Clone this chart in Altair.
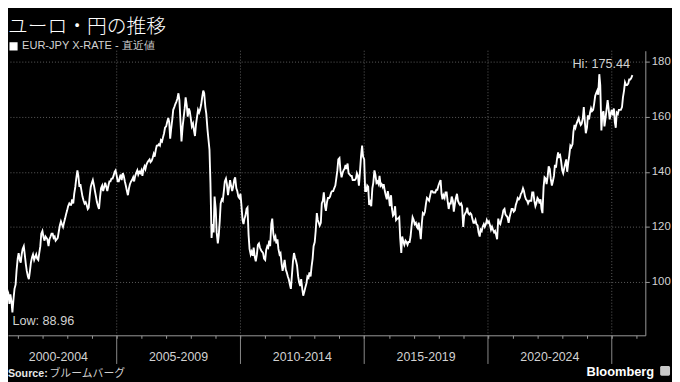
import altair as alt
import pandas as pd

# ---------------- text ----------------
title_text = "ユーロ・円の推移"
series_name = "EUR-JPY X-RATE - 直近値"
source_head = "Source:"
source_body = "ブルームバーグ"
brand_text = "Bloomberg"

# ---------------- data ----------------
# EUR/JPY, semi-monthly readings (1st and 15th of each month)
first_obs = "2000-04-01"
rate = [
    # 2000 (Apr-Dec)
    100.5, 98.0, 97.5, 99.5, 103.0, 100.5, 101.0, 99.0, 97.0, 96.0, 92.0, 95.5,
    93.0, 88.96, 94.0, 97.5, 99.0, 104.0,
    # 2001
    108.5, 110.5, 108.0, 107.0, 110.0, 112.0, 113.0, 110.0, 106.5, 104.0, 102.0, 101.0,
    104.0, 107.0, 109.0, 110.0, 108.0, 109.0, 110.0, 108.5, 108.0, 110.5, 113.0, 117.5,
    # 2002
    118.5, 116.5, 115.0, 116.5, 116.0, 115.5, 113.0, 115.5, 116.5, 117.5, 117.5, 116.0,
    116.5, 115.0, 115.5, 116.0, 118.5, 120.5, 122.0, 121.0, 120.0, 121.5, 123.0, 124.5,
    # 2003
    126.0, 127.5, 128.5, 128.0, 128.0, 130.0, 128.5, 132.0, 134.5, 137.5, 140.5, 138.5,
    134.5, 135.5, 133.0, 131.0, 129.5, 128.5, 129.0, 128.0, 126.5, 127.0, 131.5, 134.5,
    # 2004
    136.0, 137.0, 135.0, 133.0, 131.0, 129.0, 127.5, 126.5, 131.0, 134.0, 135.0, 133.0,
    134.5, 136.0, 134.5, 133.0, 135.0, 136.5, 136.5, 137.5, 137.5, 138.5, 140.0, 140.5,
    # 2005
    138.5, 136.5, 136.5, 138.0, 139.0, 137.0, 139.5, 138.5, 136.5, 135.0, 133.0, 131.5,
    134.0, 135.5, 136.5, 137.0, 138.0, 136.5, 138.5, 139.5, 140.5, 139.0, 140.0, 139.5,
    # 2006
    140.5, 138.5, 141.0, 142.0, 141.0, 142.5, 143.5, 144.0, 144.5, 143.5, 144.0, 145.0,
    146.5, 145.5, 148.0, 149.5, 149.5, 150.0, 149.5, 151.5, 151.0, 152.5, 154.0, 156.0,
    # 2007
    156.5, 158.0, 159.5, 158.0, 152.0, 155.5, 159.0, 162.5, 163.5, 164.5, 165.5, 166.5,
    168.5, 166.0, 158.0, 151.0, 156.5, 159.5, 163.0, 167.0, 164.0, 160.0, 163.0, 162.0,
    # 2008
    159.0, 156.5, 157.5, 155.0, 153.0, 157.0, 160.0, 162.5, 161.5, 162.5, 164.5, 167.0,
    169.5, 168.5, 163.5, 161.0, 155.5, 152.0, 148.0, 136.0, 116.0, 121.0, 118.0, 131.0,
    # 2009
    126.5, 118.0, 114.0, 117.0, 122.0, 128.5, 130.0, 129.5, 133.0, 136.5, 137.5, 135.5,
    131.5, 134.0, 137.0, 135.0, 133.0, 134.5, 137.0, 138.0, 134.0, 133.0, 131.0, 130.5,
    # 2010
    132.0, 128.0, 122.5, 121.0, 123.0, 124.0, 126.5, 127.0, 117.0, 112.0, 110.0, 111.0,
    109.5, 112.5, 109.0, 107.5, 110.0, 113.5, 114.0, 112.5, 111.5, 111.0, 110.5, 108.5,
    # 2011
    108.0, 111.5, 113.0, 112.5, 115.0, 113.0, 121.0, 123.0, 117.5, 115.5, 116.5, 114.0,
    115.5, 112.0, 110.0, 110.5, 106.5, 104.0, 106.0, 108.0, 104.5, 103.5, 102.0, 101.0,
    # 2012
    99.0, 97.5, 103.0, 107.5, 110.5, 109.0, 107.5, 106.0, 102.0, 100.0, 98.5, 101.0,
    97.5, 95.0, 96.5, 98.0, 99.5, 102.0, 101.5, 103.5, 102.0, 105.5, 108.5, 113.0,
    # 2013
    114.5, 118.5, 125.0, 122.5, 121.5, 120.5, 121.5, 128.5, 129.5, 132.5, 127.5, 125.8,
    129.0, 130.5, 130.5, 131.0, 132.5, 133.0, 133.0, 134.0, 135.0, 137.5, 140.5, 144.5,
    # 2014
    145.0, 140.5, 138.0, 139.5, 140.5, 141.0, 142.5, 141.0, 143.0, 139.5, 139.0, 138.5,
    138.5, 137.0, 137.0, 137.0, 137.5, 139.5, 138.5, 135.0, 140.5, 145.5, 149.5, 145.5,
    # 2015
    144.5, 133.0, 133.0, 135.0, 134.5, 128.0, 129.0, 127.5, 134.0, 136.0, 140.5, 139.0,
    136.0, 136.5, 135.5, 138.5, 135.0, 135.5, 134.5, 135.5, 133.0, 131.5, 130.0, 133.0,
    # 2016
    130.5, 127.5, 131.5, 126.5, 124.0, 124.5, 127.5, 122.5, 123.0, 123.0, 123.5, 116.0,
    110.5, 116.5, 114.5, 113.5, 115.0, 114.5, 113.5, 114.5, 114.5, 116.5, 120.5, 123.5,
    # 2017
    122.5, 121.0, 121.5, 120.0, 119.5, 121.5, 118.5, 115.5, 121.5, 125.0, 124.5, 125.5,
    128.5, 130.5, 130.0, 129.5, 131.5, 133.0, 133.0, 132.5, 132.5, 132.5, 133.5, 133.5,
    # 2018
    135.0, 136.0, 137.0, 132.0, 130.0, 131.5, 130.5, 132.5, 132.5, 129.5, 126.5, 128.5,
    128.5, 131.0, 129.5, 125.5, 128.5, 130.5, 132.0, 129.5, 128.5, 128.0, 128.5, 127.5,
    # 2019
    120.0, 124.0, 125.0, 125.5, 127.0, 125.0, 124.5, 125.0, 124.5, 123.0, 121.5, 121.5,
    122.5, 121.0, 120.5, 118.0, 116.5, 119.0, 118.5, 120.0, 121.0, 120.0, 121.0, 122.5,
    # 2020
    121.5, 122.0, 120.5, 119.0, 120.0, 119.0, 118.0, 118.5, 117.0, 115.5, 123.0, 121.5,
    121.0, 122.5, 124.0, 126.0, 126.5, 124.5, 124.0, 123.5, 121.5, 123.5, 125.0, 126.5,
    # 2021
    126.5, 125.5, 126.0, 128.0, 129.0, 130.5, 130.0, 130.5, 132.0, 132.5, 134.0, 133.0,
    131.0, 130.0, 129.5, 128.5, 129.5, 129.5, 129.5, 132.5, 132.5, 129.5, 127.5, 128.5,
    # 2022
    130.5, 130.0, 128.5, 130.0, 126.5, 125.0, 134.5, 138.0, 137.5, 135.5, 138.5, 142.0,
    141.0, 137.5, 135.0, 136.5, 138.5, 142.5, 141.5, 144.5, 147.0, 145.5, 146.0, 144.0,
    # 2023
    140.5, 139.5, 141.5, 143.0, 144.5, 140.0, 143.5, 146.0, 149.5, 149.0, 150.0, 154.5,
    157.0, 156.0, 157.5, 158.5, 159.5, 158.0, 157.0, 157.5, 159.5, 163.5, 158.0, 154.0,
    # 2024
    156.0, 160.5, 159.0, 161.5, 163.0, 162.0, 162.5, 164.5, 167.5, 168.5, 169.5, 168.0,
    175.44, 171.5, 155.0, 161.0, 162.0, 156.5, 159.5, 162.5, 166.0, 163.0, 159.0, 161.0,
    # 2025 (Jan-Oct, then Nov 1)
    162.5, 160.5, 163.0, 158.0, 156.0, 161.5, 161.0, 162.5, 162.5, 162.5, 163.5, 167.0,
    169.5, 172.5, 171.5, 171.5, 172.0, 173.5, 173.5, 174.0, 175.1,
]

period_labels = ["2000-2004", "2005-2009", "2010-2014", "2015-2019", "2020-2024"]
period_centers = ["2002-08-24", "2007-07-02", "2012-07-02", "2017-07-02", "2022-07-02"]
period_bounds = ["2005-01-01", "2010-01-01", "2015-01-01", "2020-01-01", "2025-01-01"]
year_ticks = list(range(2001, 2027))
y_ticks = [100, 120, 140, 160, 180]
x_start = (2000, 8, 11)
x_end = (2026, 5, 11)
y_domain = [80.63, 183.95]

# ---------------- frames ----------------
df = pd.DataFrame({
    "date": pd.date_range(first_obs, periods=len(rate), freq="SMS"),
    "rate": rate,
    "series": series_name,
})
lo = df.loc[df["rate"].idxmin()]
hi = df.loc[df["rate"].idxmax()]
low_df = pd.DataFrame({"date": [lo["date"]], "rate": [lo["rate"]], "label": [f"Low: {lo['rate']:.2f}"]})
hi_df = pd.DataFrame({"date": [hi["date"]], "rate": [hi["rate"]], "label": [f"Hi: {hi['rate']:.2f}"]})
bounds_df = pd.DataFrame({"date": pd.to_datetime(period_bounds)})
labels_df = pd.DataFrame({"date": pd.to_datetime(period_centers), "label": period_labels})

W, H = 645, 288
AXIS_GREY = "#9a9a9a"
GRID_GREY = "#5e5e5e"
TXT = "#d2d2d2"
FONT = "Liberation Sans"
CJK = "Noto Sans CJK JP"

x_enc = alt.X(
    "date:T",
    scale=alt.Scale(domain=[alt.DateTime(year=x_start[0], month=x_start[1], date=x_start[2]),
                            alt.DateTime(year=x_end[0], month=x_end[1], date=x_end[2])]),
    axis=alt.Axis(values=[alt.DateTime(year=y, month=1, date=1) for y in year_ticks],
                  labels=False, title=None, grid=False, tickSize=3, tickColor=AXIS_GREY,
                  domainColor=AXIS_GREY, domainWidth=1),
)
y_enc = alt.Y(
    "rate:Q",
    scale=alt.Scale(domain=y_domain, nice=False, zero=False),
    axis=alt.Axis(orient="right", values=y_ticks, title=None, grid=True, gridDash=[1, 2],
                  gridColor=GRID_GREY, tickSize=4, tickColor=AXIS_GREY, domainColor=AXIS_GREY,
                  labelPadding=2, labelFont=FONT, labelFontSize=11.5, labelColor=TXT),
)

grid_v = alt.Chart(bounds_df).mark_rule(color=GRID_GREY, strokeDash=[1, 2], strokeWidth=1).encode(
    x=x_enc, y=alt.value(0), y2=alt.value(H))
sep = alt.Chart(bounds_df).mark_rule(color="#8a8a8a", strokeWidth=1).encode(
    x=x_enc, y=alt.value(H), y2=alt.value(H + 29))

line = alt.Chart(df).mark_line(clip=True, strokeWidth=1.9, strokeJoin="miter").encode(
    x=x_enc, y=y_enc,
    color=alt.Color("series:N", scale=alt.Scale(domain=[series_name], range=["#ffffff"]),
                    legend=alt.Legend(orient="none", legendX=0, legendY=-10, title=None,
                                      symbolType="square", symbolSize=45,
                                      symbolFillColor="#ffffff", symbolStrokeColor="#ffffff",
                                      labelFont=FONT, labelFontSize=11.2, labelColor=TXT,
                                      labelOffset=3, padding=0)),
)

low_txt = alt.Chart(low_df).mark_text(align="left", baseline="top", dx=0, dy=3, font=FONT,
                                      fontSize=12.8, color=TXT).encode(x=x_enc, y=y_enc, text="label:N")
hi_txt = alt.Chart(hi_df).mark_text(align="center", baseline="bottom", dy=-3, dx=2, font=FONT,
                                    fontSize=12.8, color=TXT).encode(x=x_enc, y=y_enc, text="label:N")

period_txt = alt.Chart(labels_df).mark_text(align="center", baseline="middle", font=FONT,
                                            fontSize=12.5, color=TXT).encode(
    x=x_enc, y=alt.value(H + 22), text="label:N")

title = alt.Chart(pd.DataFrame({"t": [title_text]})).mark_text(
    align="left", baseline="alphabetic", font=CJK, fontSize=20, fontWeight=300,
    color="#ffffff").encode(x=alt.value(0), y=alt.value(-18), text="t:N")

src_head = alt.Chart(pd.DataFrame({"t": [source_head]})).mark_text(
    align="left", baseline="alphabetic", font=FONT, fontSize=10.8, fontWeight="bold",
    color="#e6e6e6").encode(x=alt.value(0), y=alt.value(H + 42), text="t:N")
src_body = alt.Chart(pd.DataFrame({"t": [source_body]})).mark_text(
    align="left", baseline="alphabetic", font=CJK, fontSize=11, color="#cfcfcf").encode(
    x=alt.value(42), y=alt.value(H + 42), text="t:N")

brand = alt.Chart(pd.DataFrame({"t": [brand_text]})).mark_text(
    align="right", baseline="alphabetic", font=FONT, fontSize=13, fontWeight="bold",
    color="#ffffff").encode(x=alt.value(W + 9), y=alt.value(H + 41), text="t:N")
icon = alt.Chart(pd.DataFrame({"t": [brand_text]})).mark_rect(
    color="#c8c8c8", cornerRadius=1.5).encode(
    x=alt.value(W + 15), x2=alt.value(W + 25), y=alt.value(H + 31), y2=alt.value(H + 41))

chart = alt.layer(
    grid_v, sep, line, low_txt, hi_txt, period_txt, title, src_head, src_body, brand, icon
).properties(
    width=W, height=H,
    padding={"left": 0, "top": 41, "right": 27, "bottom": 45},
    autosize=alt.AutoSizeParams(type="none"),
).configure(
    background="#000000",
).configure_view(stroke=None)

chart.save("out.html", embed_options={"renderer": "svg", "actions": False})
